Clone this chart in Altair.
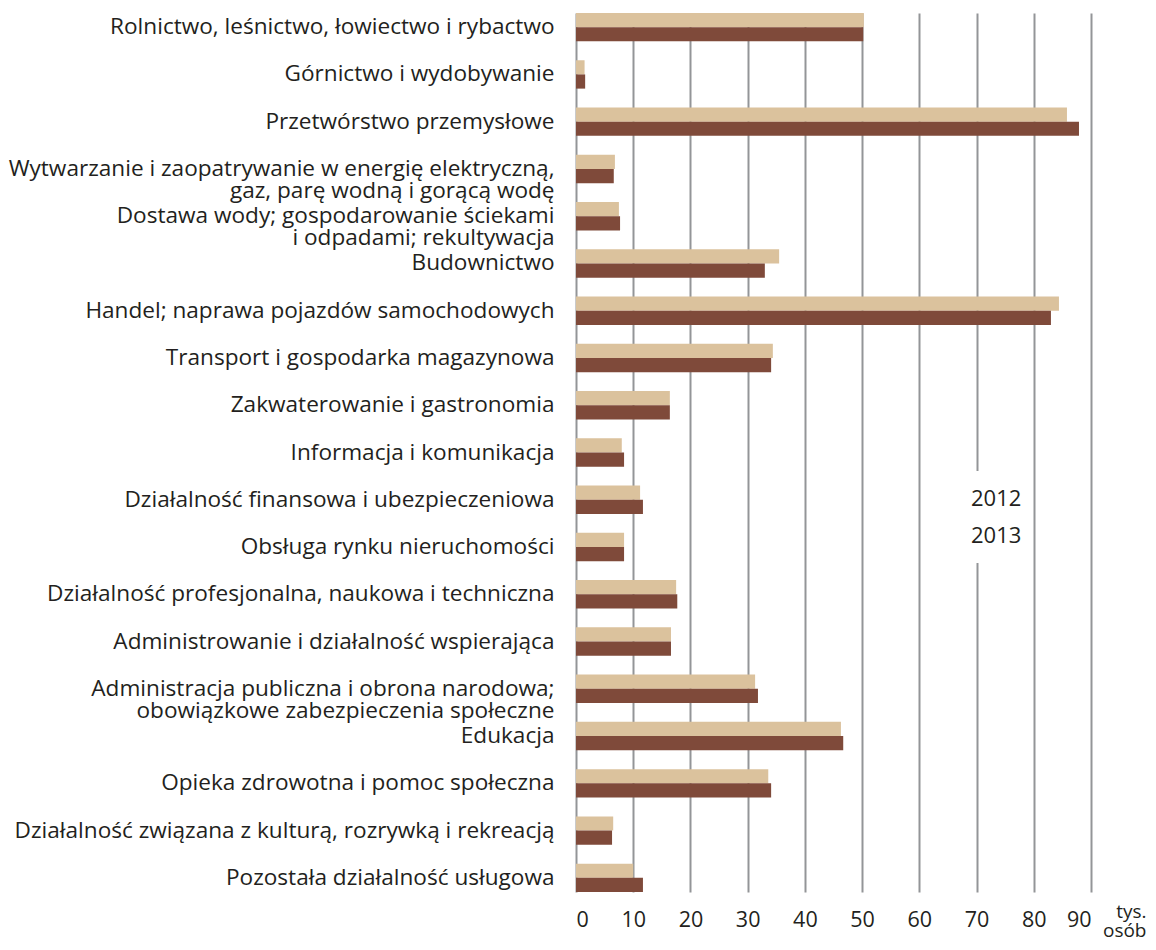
import altair as alt
import pandas as pd

categories = [
    "Rolnictwo, leśnictwo, łowiectwo i rybactwo",
    "Górnictwo i wydobywanie",
    "Przetwórstwo przemysłowe",
    "Wytwarzanie i zaopatrywanie w energię elektryczną,|gaz, parę wodną i gorącą wodę",
    "Dostawa wody; gospodarowanie ściekami|i odpadami; rekultywacja",
    "Budownictwo",
    "Handel; naprawa pojazdów samochodowych",
    "Transport i gospodarka magazynowa",
    "Zakwaterowanie i gastronomia",
    "Informacja i komunikacja",
    "Działalność finansowa i ubezpieczeniowa",
    "Obsługa rynku nieruchomości",
    "Działalność profesjonalna, naukowa i techniczna",
    "Administrowanie i działalność wspierająca",
    "Administracja publiczna i obrona narodowa;|obowiązkowe zabezpieczenia społeczne",
    "Edukacja",
    "Opieka zdrowotna i pomoc społeczna",
    "Działalność związana z kulturą, rozrywką i rekreacją",
    "Pozostała działalność usługowa",
]
values_2012 = [50.3, 1.5, 85.8, 6.8, 7.5, 35.5, 84.4, 34.4, 16.4, 8.0, 11.2, 8.4, 17.5, 16.6, 31.3, 46.3, 33.6, 6.5, 10.0]
values_2013 = [50.2, 1.6, 87.9, 6.6, 7.7, 33.0, 83.0, 34.1, 16.4, 8.4, 11.7, 8.4, 17.7, 16.6, 31.8, 46.7, 34.1, 6.3, 11.7]
years = ["2012", "2013"]
colors = ["#dbc29d", "#7f4a3a"]
x_ticks = [0, 10, 20, 30, 40, 50, 60, 70, 80, 90]

rows = []
for c, a, b in zip(categories, values_2012, values_2013):
    rows.append({"kat": c, "rok": years[0], "val": a})
    rows.append({"kat": c, "rok": years[1], "val": b})
df = pd.DataFrame(rows)

FONT = "Open Sans"
TXT = "#231f20"

chart = alt.Chart(df).mark_bar().encode(
    y=alt.Y("kat:N", sort=categories,
            scale=alt.Scale(paddingInner=0.4, paddingOuter=0),
            axis=alt.Axis(title=None, domain=False, ticks=False,
                          labelExpr="split(datum.label, '|')",
                          labelFontSize=22.6, labelFont=FONT, labelColor=TXT,
                          labelPadding=22, labelLimit=0, labelLineHeight=22,
                          minExtent=567, maxExtent=567)),
    yOffset=alt.YOffset("rok:N", sort=years),
    x=alt.X("val:Q", scale=alt.Scale(domain=[0, 90], nice=False),
            axis=alt.Axis(values=x_ticks, grid=True, gridColor="#939598", gridWidth=2,
                          domain=False, ticks=False, labelFontSize=21.5, labelFont=FONT,
                          labelColor=TXT, labelPadding=17,
                          title=["tys.", "osób"], titleFont=FONT, titleFontSize=19,
                          titleFontWeight="normal", titleColor=TXT,
                          titleAlign="right", titleBaseline="top",
                          titleX=570, titleY=10, titleLineHeight=19)),
    color=alt.Color("rok:N", scale=alt.Scale(domain=years, range=colors),
                    legend=alt.Legend(title=None, orient="none", legendX=346, legendY=458,
                                      fillColor="white", padding=9, symbolOpacity=0,
                                      symbolSize=1296, labelOffset=2, rowPadding=0,
                                      labelFontSize=22, labelFont=FONT, labelColor=TXT)),
).properties(
    width=515, height=879, padding={"left": 0, "top": 4, "right": 0, "bottom": 2}
).configure_view(stroke=None)

chart.save("out.html", embed_options={"renderer": "svg", "actions": False})
